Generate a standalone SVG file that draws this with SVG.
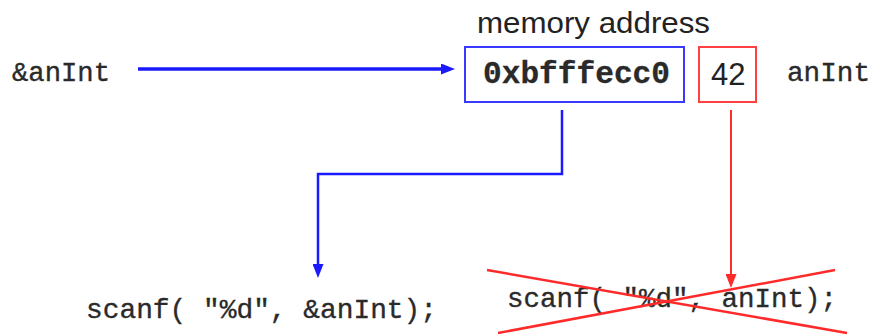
<svg xmlns="http://www.w3.org/2000/svg" width="874" height="336" viewBox="0 0 874 336">
  <style>
    .code { font-family: "Liberation Mono", "Courier New", monospace; fill: #2a2a2a; stroke: #2a2a2a; stroke-width: 0.35; }
    .bold { font-weight: bold; stroke-width: 0.3; }
    .label { font-family: "Liberation Sans", Arial, sans-serif; fill: #222; }
    .blue { stroke: #1a1aff; fill: none; }
    .red { stroke: #ff2a2a; fill: none; }
  </style>
  <defs>
    <marker id="headBlue" markerUnits="userSpaceOnUse" markerWidth="14" markerHeight="11" refX="0" refY="5.5" orient="auto">
      <path d="M0,0 L14,5.5 L0,11 z" fill="#1a1aff"/>
    </marker>
    <marker id="headRed" markerUnits="userSpaceOnUse" markerWidth="14" markerHeight="11" refX="0" refY="5.5" orient="auto">
      <path d="M0,0 L14,5.5 L0,11 z" fill="#ff2a2a"/>
    </marker>
  </defs>

  <rect width="874" height="336" fill="#ffffff"/>

  <g id="pointer-label">
    <text class="code" x="12" y="81" font-size="27" textLength="98" lengthAdjust="spacingAndGlyphs">&amp;anInt</text>
  </g>

  <g id="memory-address-title">
    <text class="label" x="477" y="33" font-size="29" textLength="233" lengthAdjust="spacingAndGlyphs">memory address</text>
  </g>

  <g id="address-box">
    <rect x="465" y="47" width="219" height="55" fill="#ffffff" stroke="#3a3aff" stroke-width="2"/>
    <text class="code bold" x="483" y="83" font-size="31" textLength="187" lengthAdjust="spacingAndGlyphs">0xbfffecc0</text>
  </g>

  <g id="value-box">
    <rect x="699" y="47" width="57" height="55" fill="#ffffff" stroke="#ff4040" stroke-width="2"/>
    <text class="label" x="711" y="85" font-size="31">42</text>
  </g>

  <g id="variable-label">
    <text class="code" x="787" y="81" font-size="27" textLength="83" lengthAdjust="spacingAndGlyphs">anInt</text>
  </g>

  <g id="call-correct">
    <text class="code" x="86" y="318" font-size="28" textLength="351" lengthAdjust="spacingAndGlyphs">scanf( "%d", &amp;anInt);</text>
  </g>

  <g id="call-wrong">
    <text class="code" x="507" y="307" font-size="28" textLength="330" lengthAdjust="spacingAndGlyphs">scanf( "%d", anInt);</text>
    <line x1="487" y1="270" x2="847" y2="333" stroke="#ff2a2a" stroke-width="2.5"/>
    <line x1="498" y1="333" x2="835" y2="270" stroke="#ff2a2a" stroke-width="2.5"/>
  </g>

  <g id="connectors">
    <line class="blue" x1="138" y1="69" x2="441" y2="69" stroke-width="3.5" marker-end="url(#headBlue)"/>
    <polyline class="blue" points="562,110 562,174 318,174 318,264" stroke-width="2.5" marker-end="url(#headBlue)"/>
    <line class="red" x1="731" y1="110" x2="731" y2="274" stroke-width="2" marker-end="url(#headRed)"/>
  </g>
</svg>
